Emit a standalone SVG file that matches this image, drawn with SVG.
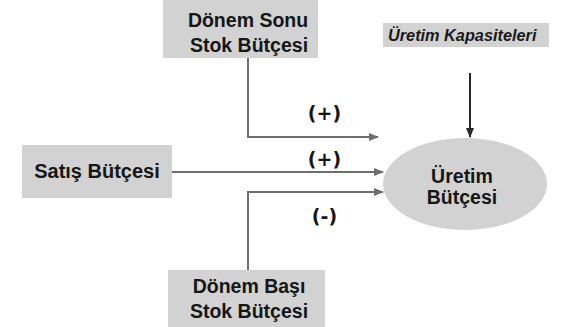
<svg xmlns="http://www.w3.org/2000/svg" width="572" height="327" viewBox="0 0 572 327">
<style>
.box{fill:#d2d2d2}
.t{font-family:"Liberation Sans",Arial,sans-serif;font-weight:bold;font-size:19.5px;fill:#161616;text-anchor:middle}
.sign{font-family:"DejaVu Sans",sans-serif;font-weight:bold;font-size:19px;fill:#161616;text-anchor:middle}
.ln{fill:none;stroke:#6e6e6e;stroke-width:2}
</style>
<defs>
<marker id="ah" markerWidth="10" markerHeight="8" refX="9" refY="4" orient="auto" markerUnits="userSpaceOnUse">
<path d="M0,0 L10,4 L0,8 z" fill="#6e6e6e"/>
</marker>
<marker id="ahd" markerWidth="10" markerHeight="8" refX="9" refY="4" orient="auto" markerUnits="userSpaceOnUse">
<path d="M0,0 L10,4 L0,8 z" fill="#2a2a2a"/>
</marker>
</defs>
<g id="donem-sonu">
<rect class="box" x="163" y="0" width="155" height="58"/>
<text class="t" x="248" y="27">Dönem Sonu</text>
<text class="t" x="249" y="52">Stok Bütçesi</text>
</g>
<g id="uretim-kapasiteleri">
<rect class="box" x="383" y="23" width="166" height="24"/>
<text x="388" y="41" style="font-family:'Liberation Sans',Arial,sans-serif;font-weight:bold;font-style:italic;font-size:16.3px;fill:#1a1a1a">Üretim Kapasiteleri</text>
</g>
<g id="satis">
<rect class="box" x="22" y="145" width="150" height="53"/>
<text class="t" x="97" y="178" style="font-size:20px">Satış Bütçesi</text>
</g>
<g id="donem-basi">
<rect class="box" x="168" y="270" width="157" height="57"/>
<text class="t" x="249" y="293">Dönem Başı</text>
<text class="t" x="249" y="318">Stok Bütçesi</text>
</g>
<g id="uretim-butcesi">
<ellipse cx="465" cy="184" rx="82" ry="46" fill="#d2d2d2"/>
<text class="t" x="462" y="183">Üretim</text>
<text class="t" x="462" y="204">Bütçesi</text>
</g>
<g id="connectors">
<path class="ln" d="M248,58 V137 H378" marker-end="url(#ah)"/>
<path class="ln" d="M172,172 H383" marker-end="url(#ah)"/>
<path class="ln" d="M248,270 V192 H383" marker-end="url(#ah)"/>
<path d="M470,73 V137" fill="none" stroke="#2a2a2a" stroke-width="2" marker-end="url(#ahd)"/>
</g>
<g id="labels">
<text class="sign" x="324.5" y="120">(+)</text>
<text class="sign" x="324.5" y="166">(+)</text>
<text class="sign" x="324.5" y="223">(-)</text>
</g>
</svg>
